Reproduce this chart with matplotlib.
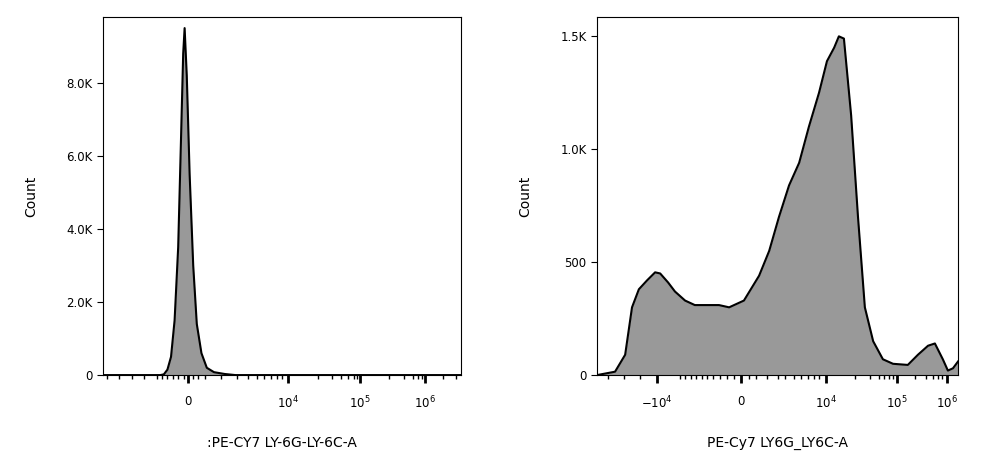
import matplotlib
matplotlib.use("Agg")
import matplotlib.pyplot as plt
import numpy as np

# Left histogram (display channel 0-1000, counts)
left_x = [0, 160, 170, 180, 190, 200, 210, 218, 224, 228, 234, 242, 252, 262, 275, 290, 310, 340, 370, 1000]
left_y = [0, 0, 20, 150, 500, 1500, 3500, 6500, 8800, 9500, 8200, 5500, 3000, 1400, 600, 200, 80, 30, 0, 0]
left_ticks = [237, 517, 718, 899]
left_labels = ["0", "$10^4$", "$10^5$", "$10^6$"]
left_yticks = [0, 2000, 4000, 6000, 8000]
left_ylabels = ["0", "2.0K", "4.0K", "6.0K", "8.0K"]

# Right histogram
right_x = [0, 50, 78, 97, 116, 139, 161, 175, 197, 216, 244, 271, 299, 338, 366, 407, 449, 477, 504, 532, 560, 587, 615, 637, 657, 670, 684, 704, 723, 742, 765, 792, 820, 861, 889, 917, 936, 958, 972, 986, 1000]
right_y = [0, 15, 90, 300, 380, 420, 455, 450, 410, 370, 330, 310, 310, 310, 300, 330, 440, 550, 700, 840, 940, 1100, 1250, 1390, 1450, 1500, 1490, 1150, 700, 300, 150, 70, 50, 45, 90, 130, 140, 70, 20, 30, 60]
right_ticks = [166, 399, 634, 831, 970]
right_labels = ["$-10^4$", "0", "$10^4$", "$10^5$", "$10^6$"]
right_yticks = [0, 500, 1000, 1500]
right_ylabels = ["0", "500", "1.0K", "1.5K"]

fig = plt.figure(figsize=(10, 4.76), dpi=100)
axL = fig.add_axes([0.103, 0.212, 0.358, 0.752])
axR = fig.add_axes([0.597, 0.212, 0.361, 0.752])

def style(ax, x, y, ticks, labels, yt, yl, ymax, xlabel, minors):
    ax.fill_between(x, y, color="#999999", lw=0)
    ax.plot(x, y, color="black", lw=1.5)
    ax.set_xlim(0, 1000)
    ax.set_ylim(0, ymax)
    ax.set_xticks(ticks)
    ax.set_xticklabels(labels, fontsize=8.5)
    ax.set_xticks(minors, minor=True)
    ax.set_yticks(yt)
    ax.set_yticklabels(yl, fontsize=8.5)
    ax.tick_params(axis="x", which="major", direction="out", length=6, width=2, pad=8)
    ax.tick_params(axis="x", which="minor", direction="out", length=3, width=1)
    ax.tick_params(axis="y", direction="out", length=4)
    ax.set_xlabel(xlabel, fontsize=10, labelpad=18)
    ax.set_ylabel("Count", fontsize=10, labelpad=20)

minL = [10, 45, 80, 115, 150, 165, 180, 195, 210, 225, 250, 265, 285, 330, 375, 405, 430, 450, 470, 485, 500, 600, 640, 665, 685, 700, 710, 800, 840, 865, 880, 890, 950, 985]
minR = [30, 75, 120, 230, 245, 260, 275, 290, 305, 320, 340, 360, 380, 420, 440, 470, 500, 520, 545, 565, 585, 600, 615, 715, 755, 780, 795, 810, 820, 880, 910, 930, 945, 955]
style(axL, left_x, left_y, left_ticks, left_labels, left_yticks, left_ylabels, 9800, ":PE-CY7 LY-6G-LY-6C-A", minL)
style(axR, right_x, right_y, right_ticks, right_labels, right_yticks, right_ylabels, 1585, "PE-Cy7 LY6G_LY6C-A", minR)
fig.savefig("out.png", dpi=100)
